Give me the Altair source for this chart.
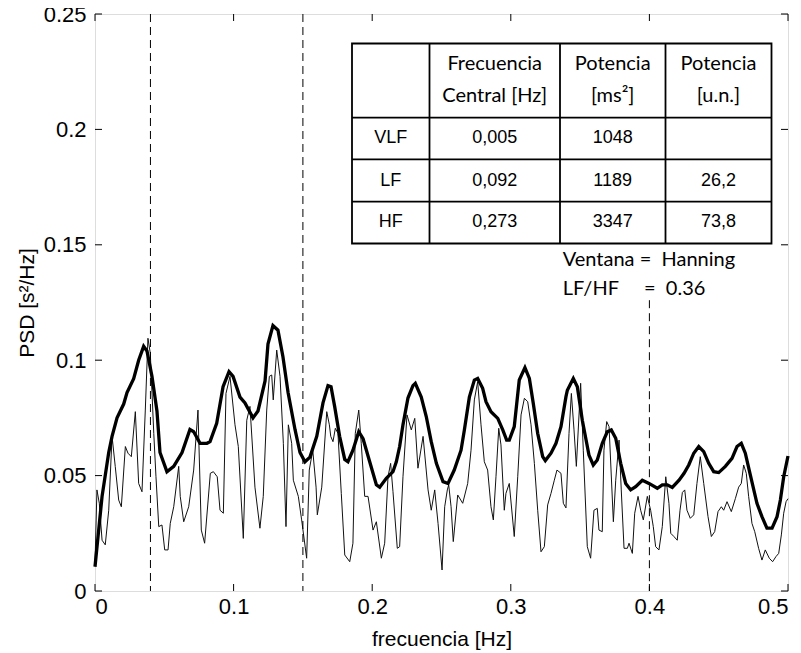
import altair as alt
import pandas as pd

# ---------------- data ----------------
thick_f = [0.0000, 0.0051, 0.0099, 0.0123, 0.0159, 0.0207, 0.0231, 0.0279, 0.0315, 0.0351,
           0.0375, 0.0411, 0.0447, 0.0469, 0.0519, 0.0568, 0.0628, 0.0685, 0.0712, 0.0758,
           0.0808, 0.0830, 0.0878, 0.0924, 0.0967, 0.0996, 0.1046, 0.1082, 0.1140, 0.1176,
           0.1227, 0.1248, 0.1284, 0.1320, 0.1356, 0.1393, 0.1443, 0.1479, 0.1515, 0.1551,
           0.1600, 0.1645, 0.1681, 0.1703, 0.1729, 0.1765, 0.1802, 0.1825, 0.1861, 0.1903,
           0.1934, 0.1982, 0.2030, 0.2054, 0.2102, 0.2150, 0.2174, 0.2198, 0.2222, 0.2258,
           0.2294, 0.2311, 0.2354, 0.2390, 0.2426, 0.2463, 0.2511, 0.2547, 0.2592, 0.2641,
           0.2665, 0.2701, 0.2737, 0.2761, 0.2797, 0.2821, 0.2857, 0.2906, 0.2942, 0.2970,
           0.2989, 0.3025, 0.3061, 0.3102, 0.3134, 0.3162, 0.3194, 0.3230, 0.3249, 0.3290,
           0.3326, 0.3362, 0.3398, 0.3408, 0.3451, 0.3480, 0.3516, 0.3564, 0.3595, 0.3624,
           0.3660, 0.3696, 0.3725, 0.3757, 0.3793, 0.3829, 0.3865, 0.3901, 0.3949, 0.3997,
           0.4057, 0.4093, 0.4129, 0.4165, 0.4214, 0.4250, 0.4284, 0.4320, 0.4356, 0.4392,
           0.4428, 0.4464, 0.4500, 0.4548, 0.4596, 0.4632, 0.4663, 0.4692, 0.4728, 0.4776,
           0.4812, 0.4848, 0.4885, 0.4921, 0.4945, 0.4969, 0.5000]
thick_p = [0.0105, 0.041, 0.060, 0.067, 0.075, 0.081, 0.086, 0.092, 0.100, 0.106,
           0.104, 0.093, 0.078, 0.060, 0.0517, 0.054, 0.060, 0.070, 0.069, 0.064,
           0.064, 0.0647, 0.0727, 0.0885, 0.095, 0.093, 0.084, 0.0815, 0.075, 0.078,
           0.091, 0.107, 0.115, 0.113, 0.1015, 0.086, 0.070, 0.060, 0.056, 0.058,
           0.067, 0.0815, 0.089, 0.0885, 0.080, 0.067, 0.057, 0.056, 0.061, 0.069,
           0.066, 0.056, 0.046, 0.045, 0.0488, 0.0517, 0.056, 0.0626, 0.072, 0.0836,
           0.089, 0.090, 0.084, 0.0756, 0.0647, 0.0553, 0.0474, 0.0466, 0.0524, 0.061,
           0.0698, 0.084, 0.0914, 0.0921, 0.0878, 0.082, 0.0777, 0.0748, 0.0698, 0.0654,
           0.0654, 0.0712, 0.0914, 0.0968, 0.0921, 0.0813, 0.0683, 0.0582, 0.0565, 0.0597,
           0.064, 0.0712, 0.0842, 0.087, 0.0921, 0.0885, 0.074, 0.0589, 0.0546, 0.0568,
           0.064, 0.069, 0.0698, 0.0662, 0.0553, 0.0466, 0.0438, 0.0452, 0.048, 0.0466,
           0.0445, 0.046, 0.046, 0.0449, 0.048, 0.051, 0.0546, 0.0597, 0.0626, 0.0604,
           0.0553, 0.0517, 0.0513, 0.054, 0.0575, 0.0626, 0.064, 0.0597, 0.0503, 0.038,
           0.0322, 0.0272, 0.0272, 0.0322, 0.0394, 0.0495, 0.0585]

thin_f = [0.0000, 0.0014, 0.0031, 0.0051, 0.0074, 0.0099, 0.0123, 0.0146, 0.0171, 0.0190,
          0.0219, 0.0238, 0.0262, 0.0291, 0.0315, 0.0339, 0.0363, 0.0382, 0.0399, 0.0424,
          0.0440, 0.0460, 0.0483, 0.0503, 0.0527, 0.0543, 0.0568, 0.0604, 0.0615, 0.0640,
          0.0676, 0.0712, 0.0743, 0.0767, 0.0791, 0.0832, 0.0854, 0.0882, 0.0902, 0.0926,
          0.0945, 0.0974, 0.1010, 0.1034, 0.1070, 0.1095, 0.1118, 0.1154, 0.1190, 0.1214,
          0.1239, 0.1258, 0.1275, 0.1286, 0.1311, 0.1335, 0.1359, 0.1378, 0.1395, 0.1419,
          0.1431, 0.1467, 0.1491, 0.1527, 0.1546, 0.1571, 0.1595, 0.1604, 0.1636, 0.1672,
          0.1691, 0.1701, 0.1717, 0.1734, 0.1753, 0.1777, 0.1802, 0.1838, 0.1861, 0.1878,
          0.1903, 0.1921, 0.1946, 0.1970, 0.2006, 0.2030, 0.2066, 0.2090, 0.2114, 0.2133,
          0.2150, 0.2181, 0.2198, 0.2222, 0.2251, 0.2282, 0.2307, 0.2330, 0.2367, 0.2403,
          0.2426, 0.2451, 0.2475, 0.2504, 0.2523, 0.2542, 0.2552, 0.2569, 0.2585, 0.2617,
          0.2653, 0.2689, 0.2713, 0.2737, 0.2761, 0.2785, 0.2809, 0.2833, 0.2857, 0.2874,
          0.2893, 0.2913, 0.2929, 0.2953, 0.2965, 0.2989, 0.3025, 0.3050, 0.3074, 0.3098,
          0.3122, 0.3146, 0.3170, 0.3194, 0.3218, 0.3242, 0.3266, 0.3290, 0.3314, 0.3333,
          0.3362, 0.3379, 0.3398, 0.3420, 0.3437, 0.3456, 0.3473, 0.3504, 0.3523, 0.3552,
          0.3576, 0.3600, 0.3624, 0.3636, 0.3660, 0.3672, 0.3692, 0.3709, 0.3740, 0.3757,
          0.3781, 0.3797, 0.3817, 0.3841, 0.3853, 0.3877, 0.3894, 0.3918, 0.3937, 0.3956,
          0.3985, 0.4009, 0.4028, 0.4045, 0.4069, 0.4093, 0.4118, 0.4141, 0.4154, 0.4177,
          0.4201, 0.4221, 0.4238, 0.4255, 0.4271, 0.4295, 0.4320, 0.4343, 0.4367, 0.4392,
          0.4423, 0.4447, 0.4471, 0.4495, 0.4519, 0.4536, 0.4560, 0.4591, 0.4620, 0.4644,
          0.4663, 0.4680, 0.4699, 0.4716, 0.4740, 0.4760, 0.4788, 0.4812, 0.4836, 0.4865,
          0.4889, 0.4913, 0.4933, 0.4952, 0.4969, 0.4986, 0.5000]
thin_p = [0.012, 0.0438, 0.038, 0.022, 0.020, 0.035, 0.067, 0.054, 0.0394, 0.0365,
          0.0626, 0.0597, 0.0582, 0.0777, 0.0466, 0.043, 0.0784, 0.1095, 0.103, 0.0683,
          0.0495, 0.0279, 0.0286, 0.0178, 0.0178, 0.0293, 0.0365, 0.054, 0.041, 0.030,
          0.0365, 0.0524, 0.0784, 0.0264, 0.0207, 0.051, 0.0517, 0.0495, 0.035, 0.0337,
          0.0856, 0.093, 0.072, 0.0626, 0.0228, 0.074, 0.080, 0.045, 0.0272, 0.041,
          0.0784, 0.093, 0.0936, 0.0828, 0.1044, 0.093, 0.064, 0.0279, 0.072, 0.064,
          0.048, 0.041, 0.0308, 0.0142, 0.0524, 0.061, 0.045, 0.033, 0.045, 0.0777,
          0.072, 0.067, 0.0647, 0.0705, 0.0683, 0.0423, 0.0156, 0.0127, 0.0207, 0.0683,
          0.0784, 0.064, 0.041, 0.041, 0.0264, 0.030, 0.0142, 0.0207, 0.0495, 0.0553,
          0.043, 0.0185, 0.0192, 0.0495, 0.0763, 0.0698, 0.0748, 0.0532, 0.067, 0.0438,
          0.035, 0.0438, 0.0293, 0.0091, 0.0365, 0.0438, 0.046, 0.0365, 0.0214, 0.0416,
          0.038, 0.0466, 0.061, 0.0828, 0.0907, 0.072, 0.056, 0.0524, 0.0365, 0.0308,
          0.0495, 0.0705, 0.0633, 0.035, 0.0423, 0.0466, 0.0236, 0.0495, 0.0763, 0.0835,
          0.082, 0.072, 0.0553, 0.035, 0.017, 0.0192, 0.0373, 0.0423, 0.048, 0.0524,
          0.051, 0.038, 0.036, 0.0683, 0.0856, 0.0698, 0.054, 0.090, 0.061, 0.0192,
          0.0142, 0.035, 0.0358, 0.0264, 0.0257, 0.061, 0.0734, 0.0712, 0.030, 0.048,
          0.0654, 0.0438, 0.0185, 0.0185, 0.0207, 0.0163, 0.0337, 0.041, 0.035, 0.0308,
          0.041, 0.035, 0.0279, 0.0192, 0.0178, 0.0279, 0.0495, 0.038, 0.025, 0.0236,
          0.022, 0.035, 0.0427, 0.0438, 0.035, 0.0315, 0.033, 0.0466, 0.0582, 0.0466,
          0.0322, 0.0236, 0.0257, 0.0344, 0.0365, 0.035, 0.0387, 0.0344, 0.040, 0.045,
          0.0466, 0.0546, 0.051, 0.041, 0.0293, 0.0257, 0.0185, 0.0134, 0.0178, 0.0142,
          0.0127, 0.0149, 0.0163, 0.0243, 0.0337, 0.0387, 0.040]

band_limits = [0.04, 0.15, 0.4]
band_tops = [0.25, 0.25, 0.126]

x_ticks = [0, 0.1, 0.2, 0.3, 0.4, 0.5]
y_ticks = [0, 0.05, 0.1, 0.15, 0.2, 0.25]

row_names = ["VLF", "LF", "HF"]
central_freq = ["0,005", "0,092", "0,273"]
power_ms2 = ["1048", "1189", "3347"]
power_nu = ["", "26,2", "73,8"]
header_line1 = ["Frecuencia", "Potencia", "Potencia"]
header_line2 = ["Central [Hz]", "[ms²]", "[u.n.]"]
window_line = "Ventana =\u00a0\u00a0Hanning"
ratio_label = "LF/HF"
ratio_value = "=\u00a0\u00a00.36"

# ---------------- layout (pixels inside plot area) ----------------
W, H = 693, 577
AX_FONT = "Liberation Sans"
CAL_FONT = "Lato"
TICK = 7

thick = pd.DataFrame({"f": thick_f, "p": thick_p})
thin = pd.DataFrame({"f": thin_f, "p": thin_p})
bands = pd.DataFrame({"f": band_limits, "top": band_tops})

xs = alt.Scale(domain=[0, 0.5], nice=False, zero=False)
ys = alt.Scale(domain=[0, 0.25], nice=False, zero=False)

xaxis = alt.Axis(values=x_ticks, labelExpr="datum.value == 0 ? '0' : format(datum.value, '.1f')",
                 title="frecuencia [Hz]", labelFont=AX_FONT, titleFont=AX_FONT,
                 labelFontSize=22, titleFontSize=21, labelPadding=5, ticks=False,
                 domain=False, grid=False, labelColor="black", titleColor="black",
                 titleFontWeight="normal", titleY=48, titleBaseline="middle")
yaxis = alt.Axis(values=y_ticks, format="~g", title="PSD [s²/Hz]",
                 labelFont=AX_FONT, titleFont=AX_FONT,
                 labelFontSize=22, titleFontSize=21, labelPadding=9, ticks=False,
                 domain=False, grid=False, labelColor="black", titleColor="black",
                 titleFontWeight="normal", titleX=-68, titleY=H / 2,
                 titleAngle=-90, titleAlign="center", titleBaseline="middle")

thin_line = alt.Chart(thin).mark_line(color="#111111", strokeWidth=1).encode(
    x=alt.X("f:Q", scale=xs, axis=xaxis),
    y=alt.Y("p:Q", scale=ys, axis=yaxis),
)
thick_line = alt.Chart(thick).mark_line(color="black", strokeWidth=3.3).encode(
    x=alt.X("f:Q", scale=xs), y=alt.Y("p:Q", scale=ys))

band_rules = alt.Chart(bands).mark_rule(color="black", strokeWidth=1, strokeDash=[8, 5]).encode(
    x=alt.X("f:Q", scale=xs), y=alt.Y("top:Q", scale=ys), y2=alt.datum(0))

xt = pd.DataFrame({"v": x_ticks})
yt = pd.DataFrame({"v": y_ticks})
tick_style = dict(color="black", strokeWidth=1)
ticks = [
    alt.Chart(xt).mark_rule(**tick_style).encode(x=alt.X("v:Q", scale=xs), y=alt.value(H), y2=alt.value(H - TICK)),
    alt.Chart(xt).mark_rule(**tick_style).encode(x=alt.X("v:Q", scale=xs), y=alt.value(0), y2=alt.value(TICK)),
    alt.Chart(yt).mark_rule(**tick_style).encode(y=alt.Y("v:Q", scale=ys), x=alt.value(0), x2=alt.value(TICK)),
    alt.Chart(yt).mark_rule(**tick_style).encode(y=alt.Y("v:Q", scale=ys), x=alt.value(W), x2=alt.value(W - TICK)),
]

# table geometry
TL, TR, TT, TB = 257, 676.5, 29.5, 229.5
col_x = [334.5, 465, 570.5]
row_y = [103.7, 145.3, 187.7]
col_c = [295.8, 399.7, 517.7, 623.5]
row_c = [124, 166.5, 208]

table_box = alt.Chart(pd.DataFrame({"a": [0]})).mark_rect(
    fill="white", stroke="black", strokeWidth=1.8).encode(
    x=alt.value(TL), x2=alt.value(TR), y=alt.value(TT), y2=alt.value(TB))

seg = pd.DataFrame(
    [{"x1": c, "x2": c, "y1": TT, "y2": TB} for c in col_x]
    + [{"x1": TL, "x2": TR, "y1": r, "y2": r} for r in row_y])
table_lines = alt.Chart(seg).mark_rule(color="black", strokeWidth=1.8).encode(
    x=alt.X("x1:Q", scale=None), x2="x2:Q", y=alt.Y("y1:Q", scale=None), y2="y2:Q")

hdr = pd.DataFrame(
    [{"t": t, "px": col_c[i + 1], "py": 49.5} for i, t in enumerate(header_line1)]
    + [{"t": t, "px": col_c[i + 1], "py": 82} for i, t in enumerate(header_line2)])
hdr_text = alt.Chart(hdr).mark_text(font=CAL_FONT, fontSize=20, align="center",
                                    baseline="middle", color="black").encode(
    x=alt.X("px:Q", scale=None), y=alt.Y("py:Q", scale=None), text="t:N")

cells = []
for r in range(3):
    for c, col in enumerate([row_names, central_freq, power_ms2, power_nu]):
        cells.append({"t": col[r], "px": col_c[c], "py": row_c[r]})
cell_df = pd.DataFrame(cells)
cell_text = alt.Chart(cell_df).mark_text(font=AX_FONT, fontSize=18, align="center",
                                         baseline="middle", color="black").encode(
    x=alt.X("px:Q", scale=None), y=alt.Y("py:Q", scale=None), text="t:N")

note_df = pd.DataFrame([
    {"t": window_line, "px": 467.7, "py": 246},
    {"t": ratio_label, "px": 467.7, "py": 274.5},
    {"t": ratio_value, "px": 549, "py": 274.5},
])
note_text = alt.Chart(note_df).mark_text(font=CAL_FONT, fontSize=20, align="left",
                                         baseline="middle", color="black").encode(
    x=alt.X("px:Q", scale=None), y=alt.Y("py:Q", scale=None), text="t:N")

chart = alt.layer(
    thin_line, thick_line, band_rules, *ticks,
    table_box, table_lines, hdr_text, cell_text, note_text,
).properties(
    width=W, height=H,
    autosize=alt.AutoSizeParams(type="none"),
    padding={"left": 87, "top": 6, "right": 5, "bottom": 61},
).configure_view(stroke="black", strokeWidth=1).configure(background="white")

chart.save("out.html", embed_options={"renderer": "svg", "actions": False})
